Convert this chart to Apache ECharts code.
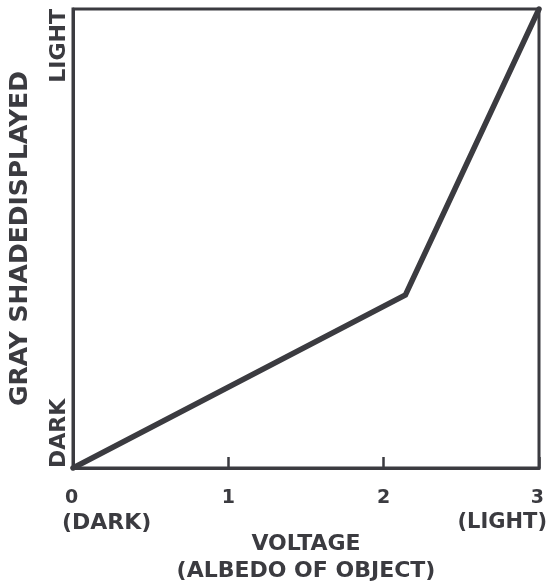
<!DOCTYPE html>
<html>
<head>
<meta charset="utf-8">
<script src="https://cdn.jsdelivr.net/npm/echarts@6/dist/echarts.min.js"></script>
<style>
html,body{margin:0;padding:0;background:#fff;}
#c{width:548px;height:585px;}
</style>
</head>
<body>
<div id="c"></div>
<script>
// Data
const voltage = [0, 2.14, 3];
const grayShade = [0, 0.377, 1];
const xTickLabels = {0: '0', 1: '1', 2: '2', 3: '3'};
const xEndNotes = {0: '(DARK)', 3: '(LIGHT)'};
const yTickLabels = {0: 'DARK', 1: 'LIGHT'};
const xTitle = 'VOLTAGE\n(ALBEDO OF OBJECT)';
const yTitle = 'GRAY SHADEDISPLAYED';

const ink = '#3b3b40';
const font = 'DejaVu Sans';

const chart = echarts.init(document.getElementById('c'), null, {renderer: 'canvas'});
chart.setOption({
  backgroundColor: '#ffffff',
  animation: false,
  grid: {left: 73, right: 9, top: 9, bottom: 117, show: true, borderColor: ink, borderWidth: 3,
         containLabel: false, outerBoundsMode: 'none'},
  xAxis: {
    type: 'value', min: 0, max: 3, interval: 1,
    axisLine: {show: true, lineStyle: {color: ink, width: 3}},
    axisTick: {show: true, inside: true, length: 11, lineStyle: {color: ink, width: 2.5}},
    splitLine: {show: false},
    axisLabel: {
      margin: 18,
      alignMinLabel: 'left',
      alignMaxLabel: 'right',
      color: ink, fontFamily: font, fontWeight: 'bold', fontSize: 20,
      formatter: function (v) {
        const t = xTickLabels[v];
        if (v === 0) return '{nl|' + t + '}\n{sl|' + xEndNotes[v] + '}';
        if (v === 3) return '{nr|' + t + '}\n{sr|' + xEndNotes[v] + '}';
        return '{n|' + t + '}';
      },
      rich: {
        n: {fontFamily: font, fontWeight: 'bold', fontSize: 19, color: ink, lineHeight: 24},
        nl: {fontFamily: font, fontWeight: 'bold', fontSize: 19, color: ink, lineHeight: 24, align: 'left', padding: [0, 0, 0, -8]},
        nr: {fontFamily: font, fontWeight: 'bold', fontSize: 19, color: ink, lineHeight: 24, align: 'right', padding: [0, -5, 0, 0]},
        sl: {fontFamily: font, fontWeight: 'bold', fontSize: 22, color: ink, lineHeight: 26, align: 'left', padding: [0, 0, 0, -11]},
        sr: {fontFamily: font, fontWeight: 'bold', fontSize: 21, color: ink, lineHeight: 26, align: 'right', padding: [0, -8, 0, 0]}
      }
    },
    name: xTitle,
    nameLocation: 'middle',
    nameGap: 63,
    nameMoveOverlap: false,
    nameTextStyle: {color: ink, fontFamily: font, fontWeight: 'bold', fontSize: 22, lineHeight: 27, align: 'center', verticalAlign: 'top'}
  },
  yAxis: {
    type: 'value', min: 0, max: 1, interval: 1,
    axisLine: {show: true, lineStyle: {color: ink, width: 3}},
    axisTick: {show: false},
    splitLine: {show: false},
    axisLabel: {
      rotate: 90,
      margin: 3,
      alignMinLabel: 'left',
      alignMaxLabel: 'right',
      color: ink, fontFamily: font, fontWeight: 'bold', fontSize: 22,
      formatter: function (v) { return yTickLabels[v] || ''; }
    },
    name: yTitle,
    nameLocation: 'middle',
    nameGap: 40,
    nameMoveOverlap: false,
    nameTextStyle: {color: ink, fontFamily: font, fontWeight: 'bold', fontSize: 25}
  },
  series: [{
    type: 'line',
    data: voltage.map((x, i) => [x, grayShade[i]]),
    showSymbol: false,
    symbol: 'none',
    clip: false,
    lineStyle: {color: ink, width: 5.5, join: 'miter', cap: 'round'}
  }]
});
</script>
</body>
</html>
